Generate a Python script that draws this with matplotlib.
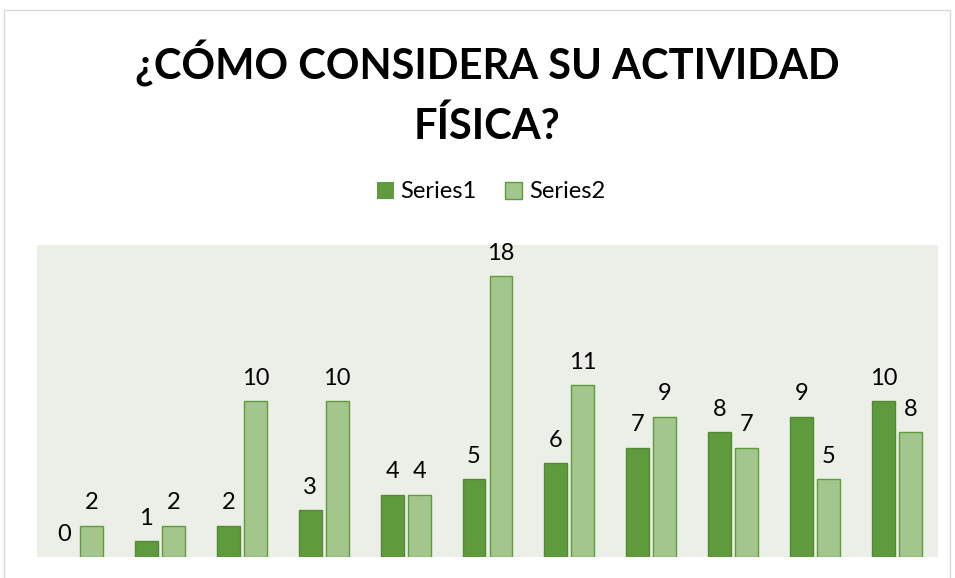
import matplotlib
matplotlib.use('Agg')
from matplotlib import pyplot as plt
import numpy as np
from matplotlib.patches import Rectangle

categories = [str(i) for i in range(1, 12)]
series1 = [0, 1, 2, 3, 4, 5, 6, 7, 8, 9, 10]
series2 = [2, 2, 10, 10, 4, 18, 11, 9, 7, 5, 8]
title = '¿CÓMO CONSIDERA SU ACTIVIDAD\nFÍSICA?'

plt.rcParams['font.family'] = ['Lato', 'DejaVu Sans']

W, H = 955, 578
fig = plt.figure(figsize=(W / 100, H / 100), dpi=100)
fig.patch.set_facecolor('white')

# chart border
fig.patches.append(Rectangle((4 / W, -0.05), 946 / W, 1.05 - 10 / H, transform=fig.transFigure,
                             fill=False, edgecolor='#D9D9D9', linewidth=1))

ax = fig.add_axes([37 / W, (H - 557) / H, 901 / W, 312 / H])
ax.set_facecolor('#EBEFE8')

x = np.arange(len(categories))
bw = 0.28
off = 0.165
b1 = ax.bar(x - off, series1, bw, color='#5F9A3C', edgecolor='#538A33', linewidth=1, label='Series1')
b2 = ax.bar(x + off, series2, bw, color='#A3C68C', edgecolor='#5F9A3C', linewidth=1, label='Series2')
for rects, vals in ((b1, series1), (b2, series2)):
    for r, v in zip(rects, vals):
        if v == 0:
            r.set_linewidth(0)
        ax.text(r.get_x() + r.get_width() / 2, v + 0.8, str(v), ha='center', va='bottom',
                fontsize=17, color='#000000')

ax.set_xlim(-0.5, len(categories) - 0.5)
ax.set_ylim(0, 20)
ax.set_xticks([])
ax.set_yticks([])
for s in ax.spines.values():
    s.set_visible(False)

fig.text(487 / W, 1 - 93 / H, title, ha='center', va='center', fontsize=30,
         fontweight='bold', linespacing=1.6)

fig.legend(handles=[b1, b2], loc='center', bbox_to_anchor=(491 / W, 1 - 192 / H), ncol=2,
           frameon=False, fontsize=17, handlelength=0.7, handleheight=0.7,
           handletextpad=0.3, columnspacing=1.2)

plt.savefig('out.png', dpi=100)
